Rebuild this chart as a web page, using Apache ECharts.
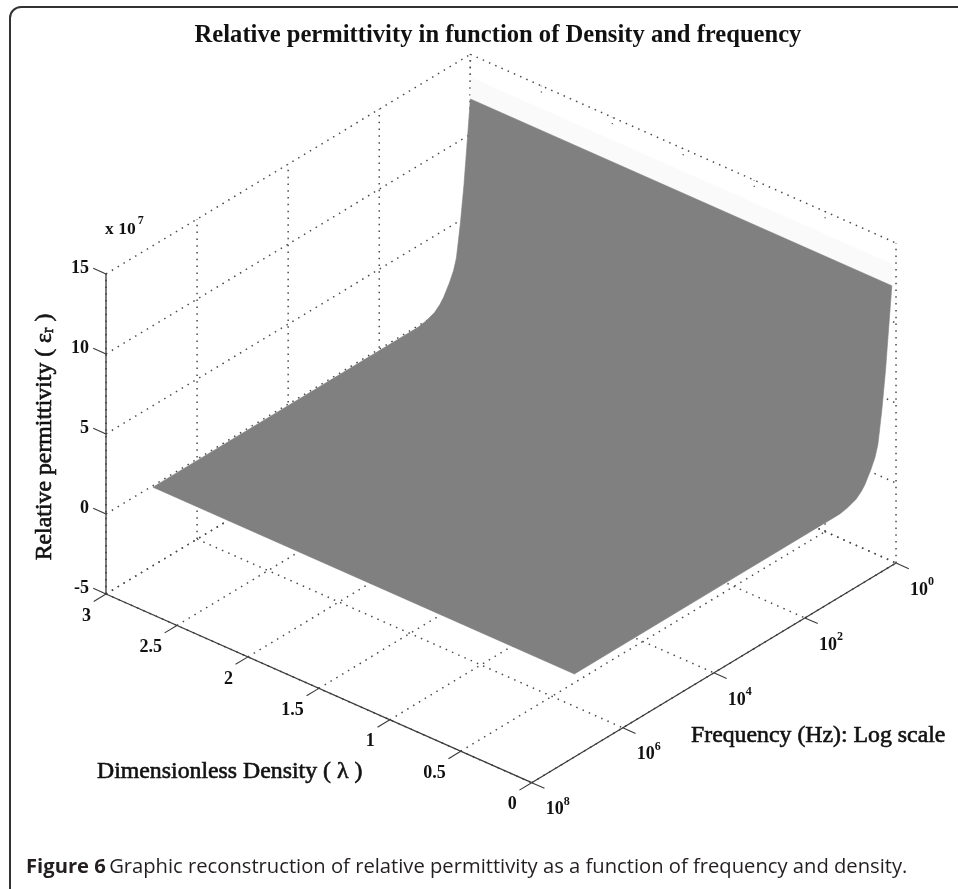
<!DOCTYPE html>
<html>
<head>
<meta charset="utf-8">
<style>html,body{margin:0;padding:0;background:#fff}#c{width:958px;height:889px}</style>
<script src="https://cdn.jsdelivr.net/npm/echarts@6/dist/echarts.min.js"></script>
</head>
<body>
<div id="c"></div>
<script>
// ---- data ----
const densityTicks = [0, 0.5, 1, 1.5, 2, 2.5, 3];
const densityLabels = ['0', '0.5', '1', '1.5', '2', '2.5', '3'];
const logFreqTicks = [0, 2, 4, 6, 8];
const permittivityTicks = [-5, 0, 5, 10, 15];
const surfaceDensity = [0.02, 2.99];
const surfaceLogFreq = [0, 0.012, 0.03, 0.06, 0.095, 0.17, 0.248, 0.336, 0.4, 0.49, 0.62, 0.7, 0.82, 1, 1.17, 2, 4, 6, 7];
const surfacePermittivity = [14.56, 13.6, 12.3, 11.2, 9.93, 7.2, 4.94, 2.9, 2.2, 1.6, 0.9, 0.6, 0.3, 0.1, 0, 0, 0, 0, 0];

// ---- 3D view: orthographic projection onto the hidden pixel-plane axes ----
const view = { ox: 531.7, oy: 782.7, lx: -141.9, ly: -62.9, fx: -45.54, fy: 27.46, zy: -16, lfMax: 8, zMin: -5 };
function project(lam, lf, z) {
  const back = lf - view.lfMax;
  return [
    view.ox + lam * view.lx + back * view.fx,
    view.oy + lam * view.ly + back * view.fy + (z - view.zMin) * view.zy
  ];
}
const serif = '"Liberation Serif","Times New Roman",serif';

// line segments [lam1, lf1, z1, lam2, lf2, z2]
const lamMax = 3, lfMin = 0, lfMax = 8, zMin = -5, zMax = 15;
const dotted = [];
permittivityTicks.forEach(z => {
  dotted.push([lamMax, lfMax, z, lamMax, lfMin, z]);   // back-left wall
  dotted.push([lamMax, lfMin, z, 0, lfMin, z]);        // back-right wall
});
logFreqTicks.forEach(lf => {
  dotted.push([lamMax, lf, zMin, lamMax, lf, zMax]);   // wall verticals
  dotted.push([lamMax, lf, zMin, 0, lf, zMin]);        // floor
});
densityTicks.forEach(lam => {
  dotted.push([lam, lfMin, zMin, lam, lfMin, zMax]);   // wall verticals
  dotted.push([lam, lfMax, zMin, lam, lfMin, zMin]);   // floor
});
const axisLines = [
  [lamMax, lfMax, zMin, lamMax, lfMax, zMax],
  [lamMax, lfMax, zMin, 0, lfMax, zMin],
  [0, lfMax, zMin, 0, lfMin, zMin]
];
const tickLen = { lam: 0.09, lf: 0.27 };
const tickLines = [];
permittivityTicks.forEach(z => tickLines.push([lamMax, lfMax, z, lamMax + tickLen.lam, lfMax, z]));
densityTicks.forEach(lam => tickLines.push([lam, lfMax, zMin, lam, lfMax + tickLen.lf, zMin]));
logFreqTicks.forEach(lf => tickLines.push([0, lf, zMin, -tickLen.lam, lf, zMin]));

// surface: one polygon per shade band of the colour map
function shade(z) { return z >= 13.6 ? '#ffffff' : z >= 12.3 ? '#fafafa' : '#808080'; }
const bands = [];
for (let j = 0; j < surfaceLogFreq.length - 1; j++) {
  const c = shade(surfacePermittivity[j + 1]);
  const last = bands[bands.length - 1];
  if (last && last[2] === c) last[1] = j + 1; else bands.push([j, j + 1, c]);
}

function segmentSeries(data, style, z) {
  return {
    type: 'custom', coordinateSystem: 'cartesian2d', silent: true, clip: false, z,
    data, encode: { x: 0, y: 1 },
    renderItem(params, api) {
      const d = data[params.dataIndex];
      const a = api.coord(project(d[0], d[1], d[2]));
      const b = api.coord(project(d[3], d[4], d[5]));
      return { type: 'line', shape: { x1: a[0], y1: a[1], x2: b[0], y2: b[1] }, style };
    }
  };
}

// tick labels [lam, lf, z, rich text, offset x, offset y, align]
const tickLabels = [];
permittivityTicks.forEach(z => tickLabels.push([lamMax, lfMax, z, String(z), -17, -6, 'right']));
densityTicks.forEach((lam, i) => tickLabels.push([lam, lfMax, zMin, densityLabels[i], -15, 22, 'right']));
logFreqTicks.forEach(lf => tickLabels.push([0, lf, zMin, '10{s|' + lf + '}', 14, 27, 'left']));

const axisTitleStyle = { fill: '#111', stroke: '#111', lineWidth: 0.6, font: '23.8px ' + serif, verticalAlign: 'middle' };

const chart = echarts.init(document.getElementById('c'), null, { renderer: 'canvas' });
chart.setOption({
  animation: false,
  backgroundColor: '#fff',
  title: {
    text: 'Relative permittivity in function of Density and frequency',
    left: 493, top: 18, textAlign: 'center',
    textStyle: { fontFamily: serif, fontWeight: 'bold', fontSize: 24.6, color: '#111' }
  },
  grid: { left: 0, right: 0, top: 0, bottom: 0 },
  xAxis: { type: 'value', min: 0, max: 958, show: false },
  yAxis: { type: 'value', min: 0, max: 889, inverse: true, show: false },
  series: [
    segmentSeries(dotted, { stroke: '#4a4a4a', lineWidth: 1.5, lineDash: [1.5, 5.3] }, 1),
    {
      type: 'custom', coordinateSystem: 'cartesian2d', silent: true, clip: false, z: 2,
      data: bands.map((b, i) => [i, 0]), encode: { x: 0, y: 1 },
      renderItem(params, api) {
        const [from, to, c] = bands[params.dataIndex];
        const near = [], far = [];
        for (let j = from; j <= to; j++) {
          near.push(api.coord(project(surfaceDensity[0], surfaceLogFreq[j], surfacePermittivity[j])));
          far.unshift(api.coord(project(surfaceDensity[1], surfaceLogFreq[j], surfacePermittivity[j])));
        }
        return { type: 'polygon', shape: { points: near.concat(far) }, style: { fill: c, stroke: c, lineWidth: 0.6 } };
      }
    },
    segmentSeries(axisLines, { stroke: '#3a3a3a', lineWidth: 1.3 }, 3),
    segmentSeries(tickLines, { stroke: '#3a3a3a', lineWidth: 1.1 }, 3),
    {
      type: 'custom', coordinateSystem: 'cartesian2d', silent: true, clip: false, z: 4,
      data: tickLabels.map((t, i) => [i, 0]), encode: { x: 0, y: 1 },
      renderItem(params, api) {
        const t = tickLabels[params.dataIndex];
        const p = api.coord(project(t[0], t[1], t[2]));
        return {
          type: 'text', x: p[0] + t[4], y: p[1] + t[5],
          style: {
            text: t[3], fill: '#111', align: t[6], verticalAlign: 'middle',
            font: 'bold 18px ' + serif,
            rich: { s: { font: 'bold 12px ' + serif, fill: '#111', padding: [0, 0, 16, 0] } }
          }
        };
      }
    }
  ],
  graphic: [
    { type: 'line', silent: true, shape: { x1: 10, y1: 889, x2: 10, y2: 18 }, style: { stroke: '#333', lineWidth: 2 } },
    { type: 'arc', silent: true, shape: { cx: 21, cy: 18, r: 11, startAngle: Math.PI, endAngle: Math.PI * 1.5, clockwise: true }, style: { fill: 'none', stroke: '#333', lineWidth: 2 } },
    { type: 'line', silent: true, shape: { x1: 21, y1: 7, x2: 958, y2: 7 }, style: { stroke: '#333', lineWidth: 2 } },
    { type: 'text', silent: true, x: 105, y: 229,
      style: { text: 'x 10{s|7}', fill: '#111', font: 'bold 17.5px ' + serif, verticalAlign: 'middle',
        rich: { s: { font: 'bold 12px ' + serif, fill: '#111', padding: [0, 0, 16, 2] } } } },
    { type: 'text', silent: true, x: 45, y: 437, rotation: Math.PI / 2,
      style: Object.assign({}, axisTitleStyle, { text: 'Relative permittivity ( ε{s|r} )', align: 'center',
        rich: { s: { font: '16px ' + serif, fill: '#111', stroke: '#111', lineWidth: 0.6, padding: [8, 0, 0, 0] } } }) },
    { type: 'text', silent: true, x: 97, y: 772,
      style: Object.assign({}, axisTitleStyle, { text: 'Dimensionless Density ( λ )' }) },
    { type: 'text', silent: true, x: 691, y: 736,
      style: Object.assign({}, axisTitleStyle, { text: 'Frequency (Hz): Log scale' }) },
    { type: 'text', silent: true, x: 26, y: 867,
      style: { text: '{b|Figure 6} {r|Graphic reconstruction of relative permittivity as a function of frequency and density.}',
        fill: '#231f20', verticalAlign: 'middle',
        rich: {
          b: { font: 'bold 20.2px "Open Sans"', fill: '#231f20' },
          r: { font: '20.2px "Open Sans"', fill: '#231f20' }
        } } }
  ]
});
</script>
</body>
</html>
